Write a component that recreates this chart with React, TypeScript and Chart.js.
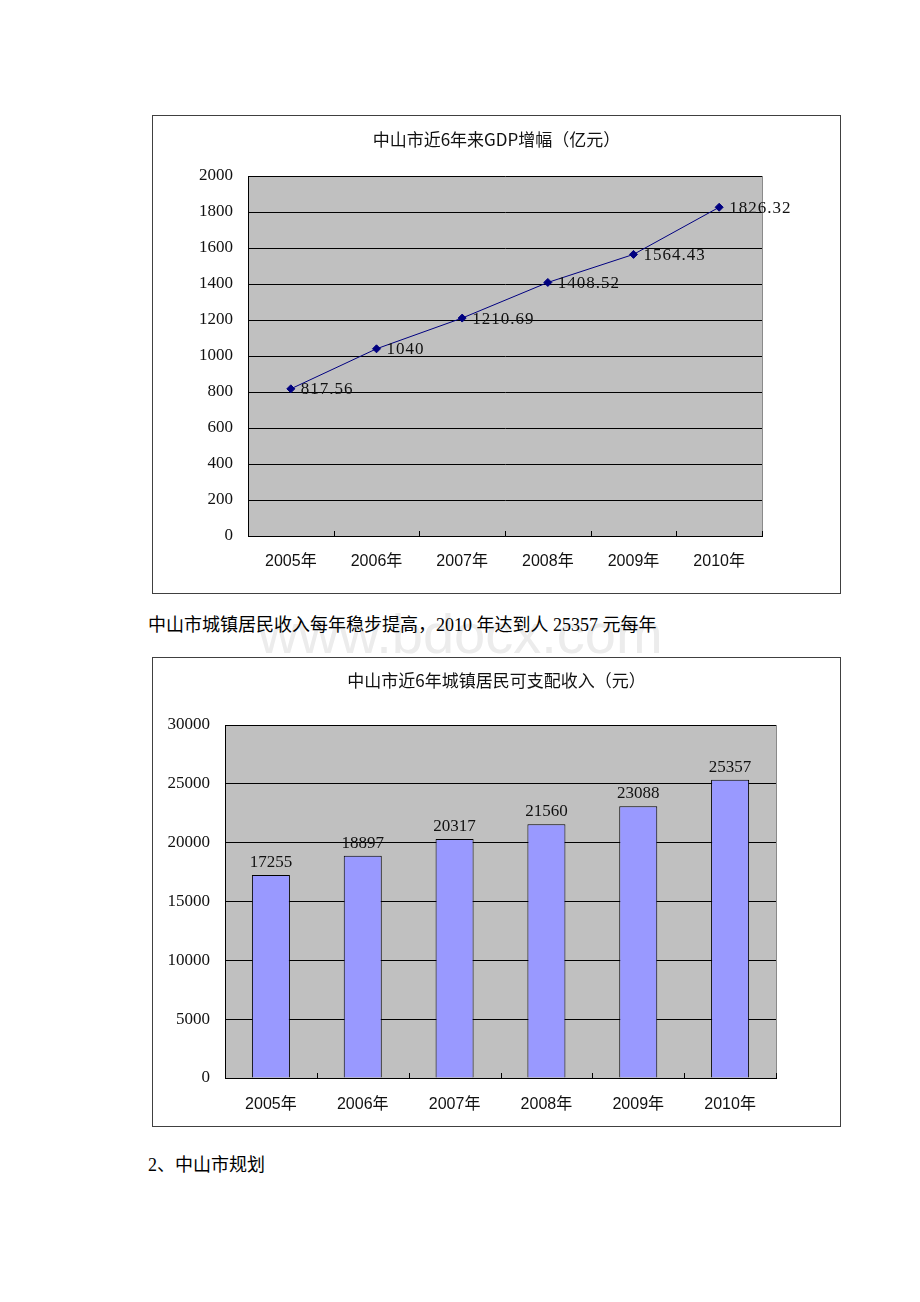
import React, { useEffect, useRef } from "react";
import { Chart, registerables } from "chart.js";

Chart.register(...registerables);

// ---- data ----
const years = ["2005年", "2006年", "2007年", "2008年", "2009年", "2010年"];
const gdpValues = [817.56, 1040, 1210.69, 1408.52, 1564.43, 1826.32];
const incomeValues = [17255, 18897, 20317, 21560, 23088, 25357];
const gdpTitle = "中山市近6年来GDP增幅（亿元）";
const incomeTitle = "中山市近6年城镇居民可支配收入（元）";
const gdpTicks = { min: 0, max: 2000, step: 200 };
const incomeTicks = { min: 0, max: 30000, step: 5000 };
const paragraphText = "中山市城镇居民收入每年稳步提高，2010 年达到人 25357 元每年";
const headingText = "2、中山市规划";
const watermarkText = "www.bdocx.com";

const SERIF = '"Liberation Serif", "Noto Sans CJK SC", serif';
const XFONT = '"Liberation Sans", "Noto Sans CJK SC", sans-serif';

const plotDecor = {
  id: "plotDecor",
  beforeDraw(chart: any) {
    const { ctx, chartArea: a } = chart;
    ctx.save();
    ctx.fillStyle = "#c0c0c0";
    ctx.fillRect(a.left, a.top, a.right - a.left, a.bottom - a.top);
    ctx.restore();
  },
  beforeDatasetsDraw(chart: any) {
    const { ctx, chartArea: a, scales } = chart;
    const x = scales.x;
    ctx.save();
    ctx.lineWidth = 1;
    ctx.strokeStyle = "#8a8a8a";
    const rx = Math.round(a.right) + 0.5;
    ctx.beginPath();
    ctx.moveTo(rx, a.top);
    ctx.lineTo(rx, a.bottom);
    ctx.stroke();
    ctx.strokeStyle = "#000";
    const n = chart.data.labels.length;
    for (let i = 1; i <= n; i++) {
      const bx = Math.round(x.getPixelForValue(i - 0.5)) + 0.5;
      ctx.beginPath();
      ctx.moveTo(bx, a.bottom);
      ctx.lineTo(bx, a.bottom - 5);
      ctx.stroke();
    }
    ctx.restore();
  },
};

const valueLabels = {
  id: "valueLabels",
  afterDatasetsDraw(chart: any, _args: any, opts: any) {
    const { ctx } = chart;
    const meta = chart.getDatasetMeta(0);
    const data = chart.data.datasets[0].data;
    ctx.save();
    ctx.font = '17px "Liberation Serif"';
    ctx.fillStyle = "#111";
    if (opts.spacing) (ctx as any).letterSpacing = opts.spacing;
    meta.data.forEach((el: any, i: number) => {
      const txt = String(data[i]);
      if (opts.position === "right") {
        ctx.textAlign = "left";
        ctx.textBaseline = "middle";
        ctx.fillText(txt, el.x + 10, el.y + 1);
      } else {
        ctx.textAlign = "center";
        ctx.textBaseline = "bottom";
        ctx.fillText(txt, el.x, el.y - 4);
      }
    });
    ctx.restore();
  },
};

function axisOptions(t: { min: number; max: number; step: number }, yWidth: number, xHeight: number, xPad: number) {
  return {
    x: {
      offset: true,
      grid: { display: false, drawTicks: false, drawOnChartArea: false },
      border: { display: true, color: "#000", width: 1 },
      ticks: { color: "#111", font: { family: XFONT, size: 16 }, padding: xPad, maxRotation: 0 },
      afterFit: (s: any) => {
        s.height = xHeight;
      },
    },
    y: {
      min: t.min,
      max: t.max,
      grid: { color: "#000", lineWidth: 1, drawTicks: false },
      border: { display: true, color: "#000", width: 1 },
      ticks: {
        stepSize: t.step,
        color: "#111",
        font: { family: SERIF, size: 17 },
        padding: 15,
        callback: (v: any) => String(v),
      },
      afterFit: (s: any) => {
        s.width = yWidth;
      },
    },
  };
}

export default function App() {
  const lineRef = useRef<HTMLCanvasElement>(null);
  const barRef = useRef<HTMLCanvasElement>(null);

  useEffect(() => {
    const c1 = new Chart(lineRef.current!, {
      type: "line",
      data: {
        labels: years,
        datasets: [
          {
            data: gdpValues,
            borderColor: "#000080",
            borderWidth: 1,
            pointStyle: "rectRot",
            pointRadius: 4,
            pointBackgroundColor: "#000080",
            pointBorderColor: "#000080",
            tension: 0,
          },
        ],
      },
      options: {
        animation: false,
        responsive: false,
        maintainAspectRatio: false,
        layout: { padding: { top: 60, right: 78, left: 0, bottom: 0 } },
        plugins: {
          legend: { display: false },
          tooltip: { enabled: false },
          title: { display: false },
          valueLabels: { position: "right", spacing: "1px" },
        } as any,
        scales: axisOptions(gdpTicks, 95, 57, 16) as any,
      },
      plugins: [plotDecor, valueLabels],
    });

    const c2 = new Chart(barRef.current!, {
      type: "bar",
      data: {
        labels: years,
        datasets: [
          {
            data: incomeValues,
            backgroundColor: "#9999ff",
            borderColor: "#000",
            borderWidth: 1,
            categoryPercentage: 1,
            barPercentage: 0.414,
          },
        ],
      },
      options: {
        animation: false,
        responsive: false,
        maintainAspectRatio: false,
        layout: { padding: { top: 67, right: 64, left: 0, bottom: 0 } },
        plugins: {
          legend: { display: false },
          tooltip: { enabled: false },
          title: { display: false },
          valueLabels: { position: "top" },
        } as any,
        scales: axisOptions(incomeTicks, 72, 48, 17) as any,
      },
      plugins: [plotDecor, valueLabels],
    });

    return () => {
      c1.destroy();
      c2.destroy();
    };
  }, []);

  const boxStyle = (top: number, height: number): React.CSSProperties => ({
    position: "absolute",
    left: 152,
    top,
    width: 689,
    height,
    border: "1px solid #404040",
    boxSizing: "border-box",
    background: "#fff",
  });

  const titleStyle = (top: number): React.CSSProperties => ({
    position: "absolute",
    left: 0,
    top,
    width: "100%",
    textAlign: "center",
    font: '17px "Noto Sans CJK SC", sans-serif',
    lineHeight: "20px",
    color: "#111",
    zIndex: 2,
  });

  return (
    <div>
      <div
        style={{
          position: "absolute",
          left: 258,
          top: 606,
          font: '56px "Liberation Sans", sans-serif',
          lineHeight: "56px",
          color: "#ececec",
          whiteSpace: "nowrap",
        }}
      >
        {watermarkText}
      </div>
      <div
        style={{
          position: "absolute",
          left: 148,
          top: 614,
          font: '18px "Liberation Serif", "Noto Sans CJK SC", serif',
          lineHeight: "22px",
          color: "#000",
          whiteSpace: "nowrap",
        }}
      >
        {paragraphText}
      </div>

      <div style={boxStyle(115, 479)}>
        <canvas ref={lineRef} width={687} height={477} style={{ position: "absolute", left: 0, top: 0, display: "block" }} />
        <div style={titleStyle(13)}>{gdpTitle}</div>
      </div>

      <div style={boxStyle(657, 470)}>
        <canvas ref={barRef} width={687} height={468} style={{ position: "absolute", left: 0, top: 0, display: "block" }} />
        <div style={titleStyle(12)}>{incomeTitle}</div>
      </div>

      <div
        style={{
          position: "absolute",
          left: 148,
          top: 1154,
          font: '18px "Liberation Serif", "Noto Sans CJK SC", serif',
          lineHeight: "22px",
          color: "#000",
          whiteSpace: "nowrap",
        }}
      >
        {headingText}
      </div>
    </div>
  );
}
